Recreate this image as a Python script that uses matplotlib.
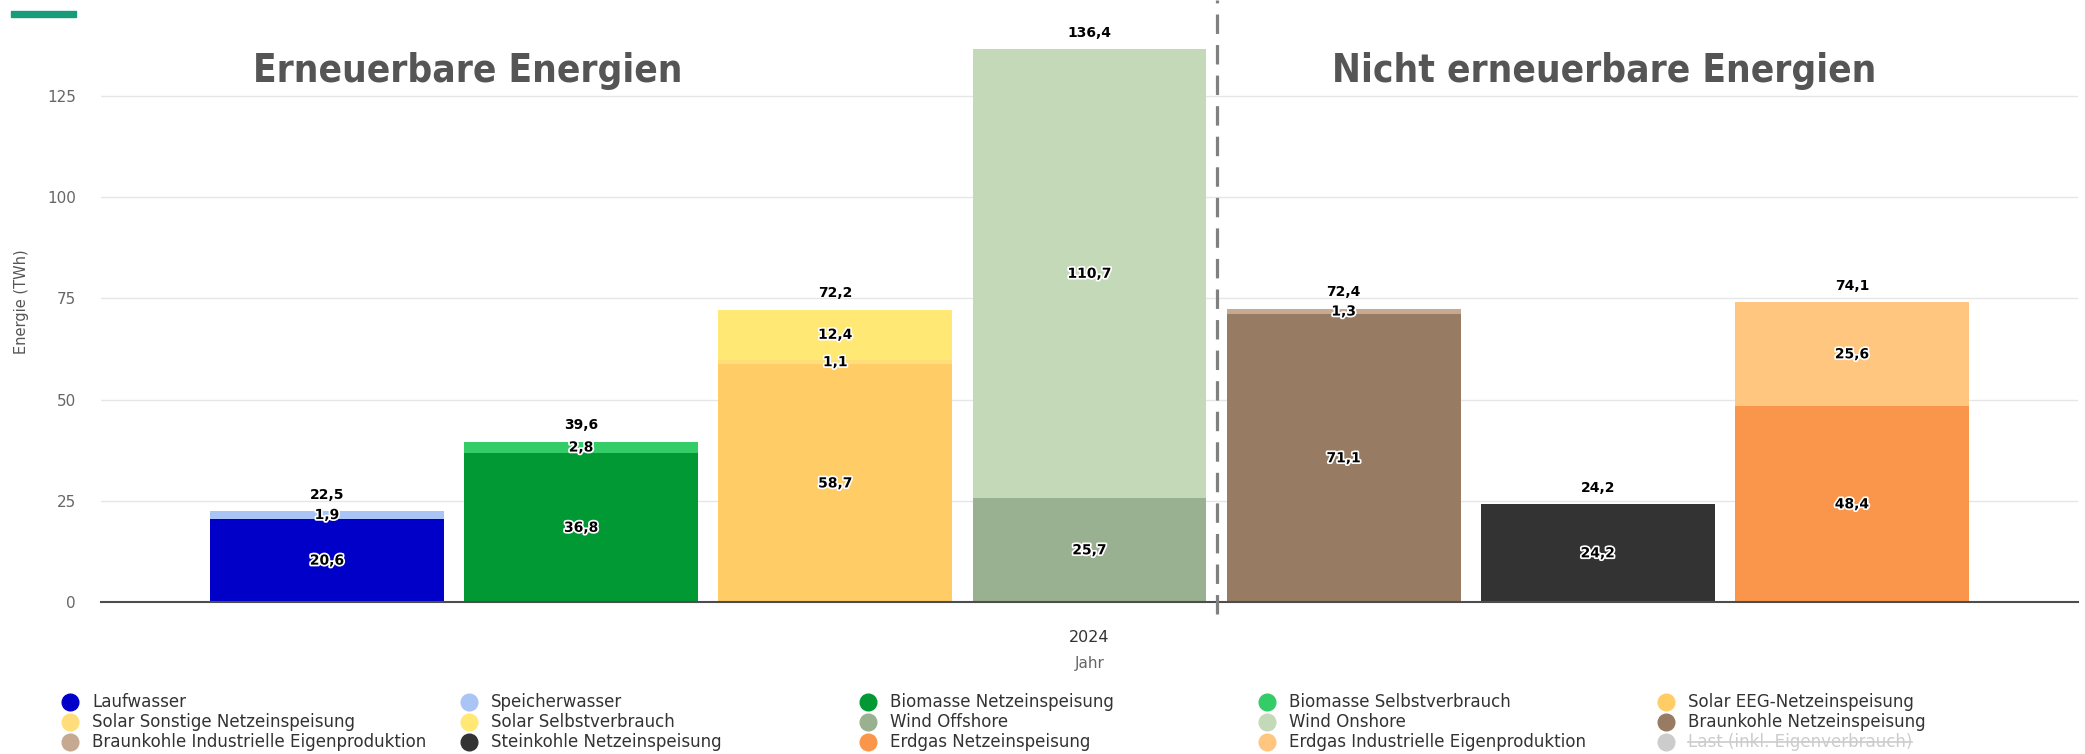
import matplotlib
matplotlib.use("Agg")
import matplotlib.pyplot as plt
import matplotlib.patheffects as pe
from matplotlib import font_manager
from matplotlib.lines import Line2D
from matplotlib.patches import Rectangle

# -------------------------------
# Data
# -------------------------------
series_names = [
    "Laufwasser", "Speicherwasser", "Biomasse Netzeinspeisung", "Biomasse Selbstverbrauch",
    "Solar EEG-Netzeinspeisung", "Solar Sonstige Netzeinspeisung", "Solar Selbstverbrauch",
    "Wind Offshore", "Wind Onshore", "Braunkohle Netzeinspeisung",
    "Braunkohle Industrielle Eigenproduktion", "Steinkohle Netzeinspeisung",
    "Erdgas Netzeinspeisung", "Erdgas Industrielle Eigenproduktion",
]
series_colors = [
    "#0000c8", "#a9c4f5", "#009933", "#33cc66",
    "#ffcc66", "#ffdd7a", "#ffe873",
    "#99b091", "#c3d9b8", "#977b62",
    "#c5aa91", "#333333",
    "#fa964b", "#ffc680",
]
bar_index = [0, 0, 1, 1, 2, 2, 2, 3, 3, 4, 4, 5, 6, 6]
values = [20.6, 1.9, 36.8, 2.8, 58.7, 1.1, 12.4, 25.7, 110.7, 71.1, 1.3, 24.2, 48.4, 25.6]
totals = [22.5, 39.6, 72.2, 136.4, 72.4, 24.2, 74.1]

# legend (row-major order as in the chart)
legend_names = [
    "Laufwasser", "Speicherwasser", "Biomasse Netzeinspeisung", "Biomasse Selbstverbrauch", "Solar EEG-Netzeinspeisung",
    "Solar Sonstige Netzeinspeisung", "Solar Selbstverbrauch", "Wind Offshore", "Wind Onshore", "Braunkohle Netzeinspeisung",
    "Braunkohle Industrielle Eigenproduktion", "Steinkohle Netzeinspeisung", "Erdgas Netzeinspeisung",
    "Erdgas Industrielle Eigenproduktion", "Last (inkl. Eigenverbrauch)",
]
last_color = "#cccccc"

year_label = "2024"
left_title = "Erneuerbare Energien"
right_title = "Nicht erneuerbare Energien"

# -------------------------------
# Fonts: a narrow face for titles / legend if one exists
# -------------------------------
fonts = font_manager.fontManager.ttflist
installed = {f.name for f in fonts}
if "Liberation Sans Narrow" in installed:
    narrow = dict(family="Liberation Sans Narrow")
    title_size, legend_size = 31, 14
elif any(f.name == "DejaVu Sans" and f.stretch == "condensed" for f in fonts):
    narrow = dict(family="DejaVu Sans", fontstretch="condensed")
    title_size, legend_size = 27.8, 13.3
else:
    narrow = dict(family="Liberation Sans")
    title_size, legend_size = 28.5, 13.5

plt.rcParams['font.family'] = ['DejaVu Sans']
plt.rcParams['lines.scale_dashes'] = False

W, H = 2085, 754
fig = plt.figure(figsize=(W / 100, H / 100), dpi=100)
x0, x1 = 101, 2078
y_zero = 602.4
ax = fig.add_axes([x0 / W, (H - y_zero) / H, (x1 - x0) / W, y_zero / H])

# -------------------------------
# Bars
# -------------------------------
bottoms = [0.0] * len(totals)
for name, col, bi, v in zip(series_names, series_colors, bar_index, values):
    ax.bar(bi, v, bottom=bottoms[bi], width=0.92, color=col, edgecolor="none", zorder=3)
    ax.text(bi, bottoms[bi] + v / 2, f"{v:.1f}".replace(".", ","), ha="center", va="center",
            fontsize=10, fontweight="bold", color="black", zorder=5,
            path_effects=[pe.withStroke(linewidth=2.5, foreground="white")])
    bottoms[bi] += v

for i, t in enumerate(totals):
    ax.annotate(f"{t:.1f}".replace(".", ","), (i, bottoms[i]), xytext=(0, 12),
                textcoords="offset points", ha="center", va="center",
                fontsize=10, fontweight="bold", color="black", zorder=5)

ax.set_xlim(-0.889, 6.889)
ax.set_ylim(0, 148.6)
ax.set_yticks([0, 25, 50, 75, 100, 125])
ax.set_xticks([3])
ax.set_xticklabels([year_label])
ax.tick_params(axis="y", length=0, pad=18, labelsize=11, labelcolor="#666666")
ax.tick_params(axis="x", length=0, pad=20, labelsize=11.5, labelcolor="#333333")
ax.grid(axis="y", color="#e6e6e6", linewidth=1, zorder=0)
ax.set_axisbelow(True)
for s in ["top", "right", "left"]:
    ax.spines[s].set_visible(False)
ax.spines["bottom"].set_color("#4d4d4d")
ax.spines["bottom"].set_linewidth(1.5)
ax.spines["bottom"].set_zorder(4)

ax.set_xlabel("Jahr", fontsize=11, color="#666666", labelpad=8)
ax.set_ylabel("Energie (TWh)", fontsize=10.5, color="#555555", labelpad=13)

# dashed separator between renewable and non-renewable
ax.plot([3.5, 3.5], [-2.9, 148.6], color="#808080", linewidth=2.3,
        dashes=(14, 8), clip_on=False, zorder=6)

# -------------------------------
# Titles & decoration
# -------------------------------
fig.text(468 / W, 1 - 82 / H, left_title, ha="center", va="baseline",
         fontsize=title_size, fontweight="bold", color="#555555", **narrow)
fig.text(1604 / W, 1 - 82 / H, right_title, ha="center", va="baseline",
         fontsize=title_size, fontweight="bold", color="#555555", **narrow)
fig.patches.append(Rectangle((11 / W, 1 - 17 / H), 65 / W, 6 / H,
                             transform=fig.transFigure, color="#169b7b"))

# -------------------------------
# Legend (5 columns, 3 rows)
# -------------------------------
legend_colors = dict(zip(series_names, series_colors))
last_text = None
for k, name in enumerate(legend_names):
    row, colm = divmod(k, 5)
    mx = (70 + colm * 399) / W
    ty = 1 - (702 + row * 20) / H
    c = legend_colors.get(name, last_color)
    tc = "#333333" if name in legend_colors else last_color
    fig.add_artist(Line2D([mx], [ty], marker="o", markersize=12, color=c,
                          linestyle="none", transform=fig.transFigure))
    t = fig.text(mx + 22 / W, ty, name, ha="left", va="center", fontsize=legend_size,
                 color=tc, **narrow)
    if name not in legend_colors:
        last_text = t

fig.canvas.draw()
bb = last_text.get_window_extent()
ymid = (bb.y0 + bb.y1) / 2 / H
fig.add_artist(Line2D([bb.x0 / W, bb.x1 / W], [ymid, ymid], color=last_color,
                      linewidth=1.2, transform=fig.transFigure))

fig.savefig("out.png", dpi=100)
